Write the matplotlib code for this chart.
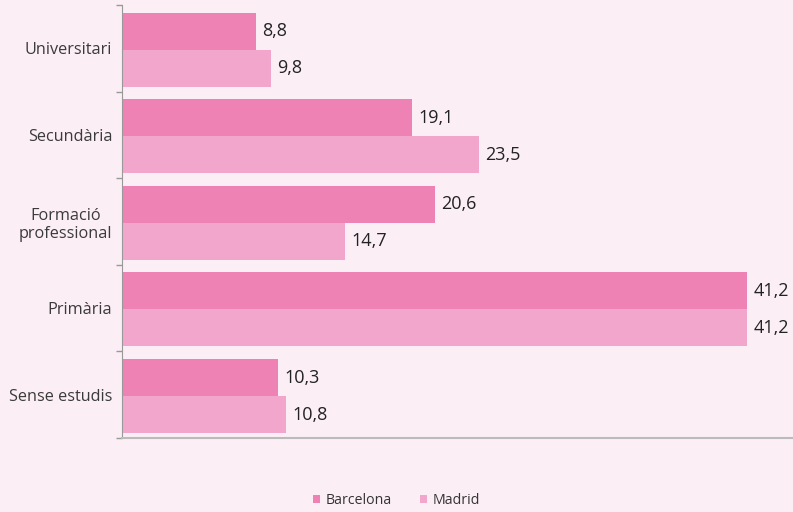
import numpy as np
import matplotlib.pyplot as plt

plt.rcParams['font.family'] = ['Open Sans', 'DejaVu Sans']

categories = ["Universitari", "Secundària", "Formació\nprofessional", "Primària", "Sense estudis"]
barcelona = [8.8, 19.1, 20.6, 41.2, 10.3]
madrid = [9.8, 23.5, 14.7, 41.2, 10.8]

bg = "#fbeef5"
c_bcn = "#ee82b4"
c_mad = "#f2a6cb"

fig = plt.figure(figsize=(7.93, 5.12), dpi=100, facecolor=bg)
ax = fig.add_axes([0.1538, 0.1445, 0.8462, 0.8455], facecolor=bg)

y = np.arange(len(categories)) + 0.015
h = 0.427
ax.barh(y - h / 2, barcelona, height=h, color=c_bcn, label="Barcelona")
ax.barh(y + h / 2, madrid, height=h, color=c_mad, label="Madrid")

for i in range(len(categories)):
    ax.text(barcelona[i] + 0.4, y[i] - h / 2, f"{barcelona[i]:.1f}".replace(".", ","),
            va="center", ha="left", fontsize=13, color="#222222")
    ax.text(madrid[i] + 0.4, y[i] + h / 2, f"{madrid[i]:.1f}".replace(".", ","),
            va="center", ha="left", fontsize=13, color="#222222")

ax.set_ylim(len(categories) - 0.5, -0.5)
ax.set_xlim(0, 44.2)
ax.set_yticks(np.arange(len(categories)))
ax.set_yticklabels(categories, fontsize=11.7, color="#3a3a3a", ha="right",
                   multialignment="center")
ax.tick_params(axis="y", which="major", length=0, pad=7)
ax.set_yticks(np.arange(-0.5, len(categories), 1), minor=True)
ax.tick_params(axis="y", which="minor", length=4, color="#999999", width=1)
ax.set_xticks([])

for s in ["top", "right"]:
    ax.spines[s].set_visible(False)
ax.spines["left"].set_color("#999999")
ax.spines["bottom"].set_color("#bbbbbb")
ax.spines["bottom"].set_linewidth(1.5)

fig.legend(loc="lower center", bbox_to_anchor=(0.5, -0.018), ncol=2, frameon=False,
           fontsize=10.2, handlelength=0.5, handleheight=0.5, columnspacing=2.0,
           handletextpad=0.4, labelcolor="#333333")

fig.savefig("out.png", dpi=100, facecolor=bg)
